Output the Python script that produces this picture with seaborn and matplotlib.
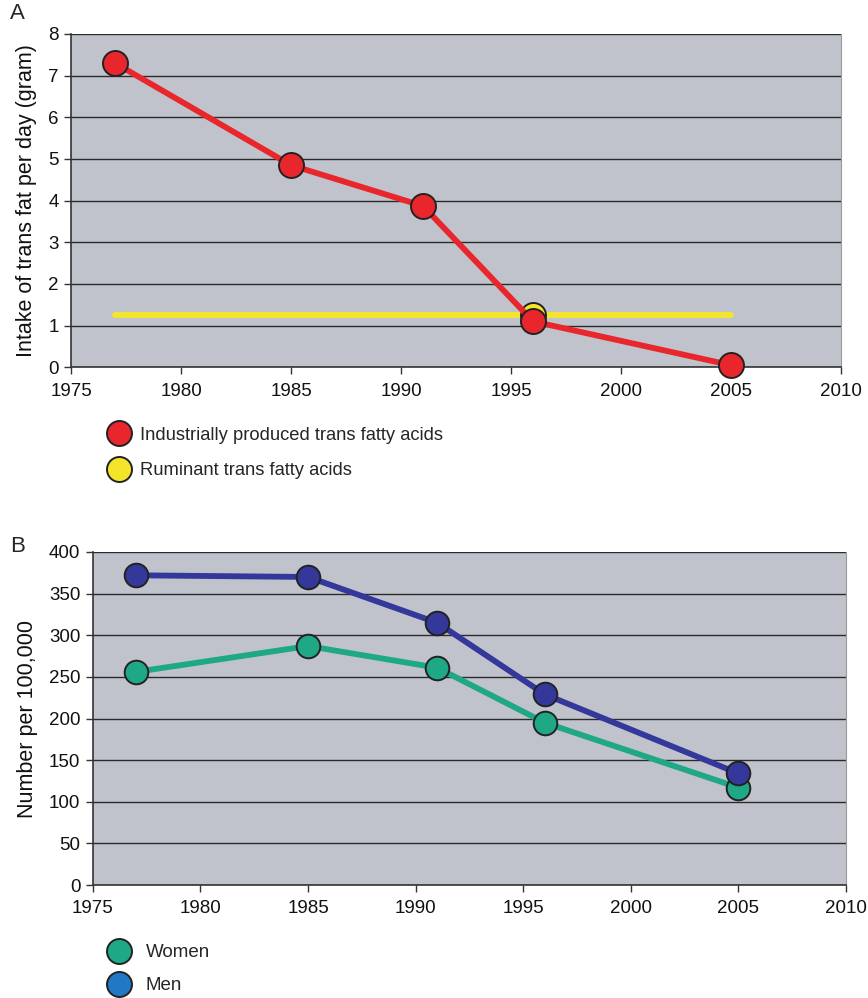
import numpy as np
import pandas as pd
import matplotlib
matplotlib.use("Agg")
import matplotlib.pyplot as plt
from matplotlib.lines import Line2D
import seaborn as sns

# Panel A: intake of trans fat (gram/day)
years_a = [1977, 1985, 1991, 1996, 2005]
industrial = [7.3, 4.85, 3.87, 1.1, 0.05]
ruminant = [1.25, 1.25, 1.25, 1.25, 1.25]

# Panel B: number per 100,000
years_b = [1977, 1985, 1991, 1996, 2005]
men = [372, 370, 315, 229, 134]
women = [256, 287, 261, 195, 117]

x_ticks = [1975, 1980, 1985, 1990, 1995, 2000, 2005, 2010]

RED = "#e8262c"
YELLOW = "#f5e52a"
TEAL = "#1fa886"
NAVY = "#33389a"
MEN_LEG = "#2178c4"
BG = "#c0c3cb"
EDGE = "#222222"

sns.set_theme(style="white")
plt.rcParams["font.family"] = ["Liberation Sans", "DejaVu Sans"]

fig = plt.figure(figsize=(8.68, 9.98), dpi=100)
ax_a = fig.add_axes([0.0818, 0.632, 0.8872, 0.334])
ax_b = fig.add_axes([0.107, 0.1132, 0.8677, 0.3337])


def style_axes(ax, ylim, yticks):
    ax.set_facecolor(BG)
    ax.set_xlim(1975, 2010)
    ax.set_ylim(*ylim)
    ax.set_xticks(x_ticks)
    ax.set_yticks(yticks)
    ax.yaxis.grid(True, color="#2a2a2a", linewidth=1.0)
    ax.xaxis.grid(False)
    ax.set_axisbelow(True)
    ax.spines["top"].set_visible(False)
    ax.spines["right"].set_color("#9a9a9a")
    ax.spines["right"].set_linewidth(0.8)
    for side in ["left", "bottom"]:
        ax.spines[side].set_color("#333333")
        ax.spines[side].set_linewidth(1.2)
    ax.tick_params(axis="both", direction="out", length=5, width=1,
                   color="#333333", labelsize=13.5, labelcolor="#111111",
                   left=True, bottom=True)
    ax.tick_params(axis="x", pad=6)
    ax.tick_params(axis="y", pad=4)
    ax.set_xlabel("")


# --- Panel A ---
style_axes(ax_a, (0, 8), range(0, 9))
sns.lineplot(x=years_a, y=ruminant, ax=ax_a, color=YELLOW, linewidth=4.2,
             marker="o", markersize=18, markevery=[3],
             markerfacecolor=YELLOW, markeredgecolor=EDGE, markeredgewidth=1.4,
             zorder=3)
sns.lineplot(x=years_a, y=industrial, ax=ax_a, color=RED, linewidth=4.2,
             marker="o", markersize=18,
             markerfacecolor=RED, markeredgecolor=EDGE, markeredgewidth=1.4,
             zorder=4)
for ln in ax_a.lines:
    ln.set_clip_on(False)
ax_a.set_ylabel("Intake of trans fat per day (gram)", fontsize=15.5,
                labelpad=8, color="#111111")
fig.text(0.012, 0.986, "A", fontsize=16, ha="left", va="center")

handles_a = [
    Line2D([], [], linestyle="none", marker="o", markersize=18,
           markerfacecolor=RED, markeredgecolor=EDGE, markeredgewidth=1.4,
           label="Industrially produced trans fatty acids"),
    Line2D([], [], linestyle="none", marker="o", markersize=18,
           markerfacecolor=YELLOW, markeredgecolor=EDGE, markeredgewidth=1.4,
           label="Ruminant trans fatty acids"),
]
fig.legend(handles=handles_a, loc="upper left", bbox_to_anchor=(0.105, 0.589),
           frameon=False, fontsize=13.2, handletextpad=0.55, labelspacing=1.0,
           handlelength=1.2)

# --- Panel B ---
style_axes(ax_b, (0, 400), range(0, 401, 50))
sns.lineplot(x=years_b, y=women, ax=ax_b, color=TEAL, linewidth=4.2,
             marker="o", markersize=17,
             markerfacecolor=TEAL, markeredgecolor=EDGE, markeredgewidth=1.4,
             zorder=3)
sns.lineplot(x=years_b, y=men, ax=ax_b, color=NAVY, linewidth=4.2,
             marker="o", markersize=17,
             markerfacecolor=NAVY, markeredgecolor=EDGE, markeredgewidth=1.4,
             zorder=4)
ax_b.set_ylabel("Number per 100,000", fontsize=15.5, labelpad=8,
                color="#111111")
fig.text(0.012, 0.452, "B", fontsize=16, ha="left", va="center")

handles_b = [
    Line2D([], [], linestyle="none", marker="o", markersize=18,
           markerfacecolor=TEAL, markeredgecolor=EDGE, markeredgewidth=1.4,
           label="Women"),
    Line2D([], [], linestyle="none", marker="o", markersize=18,
           markerfacecolor=MEN_LEG, markeredgecolor=EDGE, markeredgewidth=1.4,
           label="Men"),
]
fig.legend(handles=handles_b, loc="upper left", bbox_to_anchor=(0.105, 0.071),
           frameon=False, fontsize=13.5, handletextpad=0.8, labelspacing=0.85,
           handlelength=1.2)

fig.savefig("out.png", dpi=100)
